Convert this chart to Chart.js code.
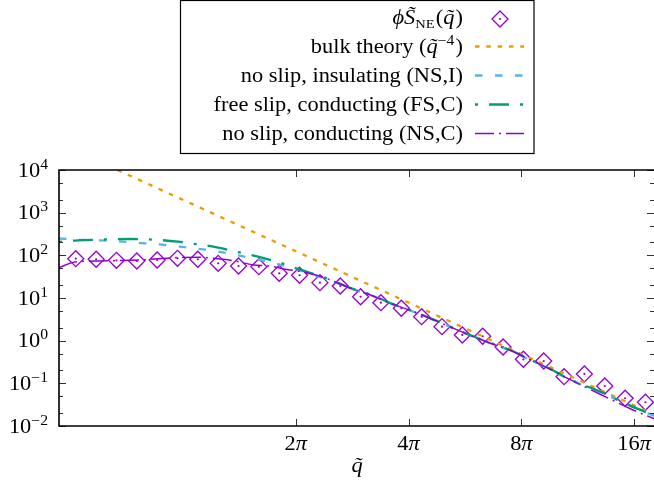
<!DOCTYPE html>
<html>
<head>
<meta charset="utf-8">
<script src="https://cdn.jsdelivr.net/npm/chart.js@4.4.1/dist/chart.umd.min.js"></script>
<style>
  html, body { margin: 0; padding: 0; background: #fff; }
  canvas { display: block; }
</style>
</head>
<body>
<canvas id="c" width="654" height="489"></canvas>
<script>
// Measured non-equilibrium structure factor, phi * S_NE(q)
const qMeasured = [1.625, 1.842, 2.087, 2.365, 2.680, 3.037, 3.441, 3.900, 4.419, 5.008,
                   5.675, 6.431, 7.287, 8.258, 9.358, 10.60, 12.02, 13.62, 15.43, 17.49,
                   19.82, 22.46, 25.45, 28.84, 32.68, 37.03, 41.97, 47.56, 53.89];
const sMeasured = [83.4, 80.8, 76.5, 73.7, 77.8, 85.2, 80.8, 65.0, 56.2, 54.2,
                   37.9, 34.1, 22.9, 19.1, 10.7, 7.77, 5.74, 3.65, 2.13, 1.36,
                   1.27, 0.711, 0.366, 0.334, 0.143, 0.166, 0.0867, 0.0447, 0.036];

// Bulk theory, a pure q^-4 power law (straight in log-log)
const qBulk = [2.10, 56.8];
const sBulk = [1.0e4, 0.0187];

// No slip, insulating walls
const qNSI = [1.466, 1.668, 1.887, 2.161, 2.487, 2.813, 3.242, 3.713, 4.197, 4.748,
              5.371, 6.149, 7.308, 8.263, 8.788, 9.941, 11.24, 12.72, 14.38, 16.26,
              18.40, 20.80, 23.53, 26.62, 30.10, 34.05, 40.94, 49.27, 57.10];
const sNSI = [248, 231.3, 224.9, 208.9, 191.4, 174.6, 151, 131.9, 109.1, 86.7,
              69.0, 50.5, 31.0, 21.3, 16.8, 11.7, 7.45, 5.05, 3.28, 2.07,
              1.30, 0.86, 0.583, 0.348, 0.209, 0.119, 0.0622, 0.0292, 0.0171];

// Free slip, conducting walls
const qFSC = [1.466, 1.647, 1.852, 2.268, 2.643, 3.049, 3.283, 3.783, 4.048, 4.356,
              4.689, 5.371, 5.746, 6.188, 6.582, 7.394, 8.263, 8.788, 9.941, 11.24,
              12.72, 14.38, 16.26, 18.40, 20.80, 23.53, 26.62, 30.10, 34.05, 40.94,
              49.27, 57.10];
const sFSC = [205.6, 224.9, 232.4, 241.5, 232.4, 208.9, 191.4, 159.6, 140.9, 121.7,
              105.7, 77.8, 66.1, 52.4, 43.7, 31.6, 21.5, 17.2, 12.0, 7.6,
              5.15, 3.35, 2.12, 1.34, 0.88, 0.595, 0.356, 0.213, 0.121, 0.0632,
              0.0296, 0.0174];

// No slip, conducting walls
const qNSC = [1.466, 1.617, 1.887, 2.413, 3.086, 3.490, 3.997, 4.329, 4.838, 5.371,
              5.890, 6.528, 6.828, 7.534, 8.788, 9.941, 11.24, 12.72, 14.38, 16.26,
              18.40, 20.80, 23.53, 26.62, 30.10, 34.05, 40.94, 49.27, 57.10];
const sNSC = [51.4, 69.8, 73.7, 77.8, 89.0, 89.9, 80.8, 73.7, 59.4, 56.2,
              47.1, 41.3, 37.5, 29.4, 16.9, 11.8, 7.5, 5.1, 3.31, 2.09,
              1.32, 0.869, 0.589, 0.352, 0.211, 0.12, 0.0548, 0.0251, 0.0146];

// Axis ticks
const xTickValues = [2 * Math.PI, 4 * Math.PI, 8 * Math.PI, 16 * Math.PI];
const xTickNumbers = ['2', '4', '8', '16'];
const yTickValues = [1e-2, 1e-1, 1e0, 1e1, 1e2, 1e3, 1e4];
const yTickExponents = ['\u22122', '\u22121', '0', '1', '2', '3', '4'];
const yMinorFactors = [2, 5];

// Legend entries (the first two are composed below with math formatting)
const legendLabels = [
  null,
  null,
  'no slip, insulating (NS,I)',
  'free slip, conducting (FS,C)',
  'no slip, conducting (NS,C)'
];

const PURPLE = '#9400D3';
const ORANGE = '#E69F00';
const SKY = '#56B4E9';
const GREEN = '#009E73';

const DASH_BULK = [4.5, 6.8];
const DASH_NSI = [7.5, 12.5];
const DASH_FSC = [3, 11, 20, 11];
const DASH_NSC = [19, 5, 2, 5];

const pts = (qs, vs) => qs.map((q, i) => ({ x: q, y: vs[i] }));

const FAMILY = '"Liberation Serif", "DejaVu Serif", serif';
const RM = '20px ' + FAMILY;
const IT = 'italic 20px ' + FAMILY;
const SUP = '14px ' + FAMILY;
const SUB = '13px ' + FAMILY;
const SX = 1.12; // horizontal stretch of text

function richWidth(ctx, segs) {
  let w = 0;
  for (const s of segs) { ctx.font = s.f; w += ctx.measureText(s.t).width + (s.k || 0); }
  return w * SX;
}
function drawRich(ctx, segs, x, y, align) {
  const w = richWidth(ctx, segs);
  const x0 = align === 'right' ? x - w : align === 'center' ? x - w / 2 : x;
  ctx.save();
  ctx.translate(x0, y);
  ctx.scale(SX, 1);
  ctx.textAlign = 'left';
  ctx.textBaseline = 'alphabetic';
  let px = 0;
  for (const s of segs) {
    ctx.font = s.f;
    ctx.fillText(s.t, px, s.dy || 0);
    px += ctx.measureText(s.t).width + (s.k || 0);
  }
  ctx.restore();
}
function seg(ctx, x1, y1, x2, y2) {
  ctx.beginPath(); ctx.moveTo(x1, y1); ctx.lineTo(x2, y2); ctx.stroke();
}
function diamond(ctx, x, y, r) {
  ctx.save();
  ctx.strokeStyle = PURPLE; ctx.fillStyle = PURPLE; ctx.lineWidth = 1.3;
  ctx.setLineDash([]);
  ctx.beginPath();
  ctx.moveTo(x, y - r); ctx.lineTo(x + r, y); ctx.lineTo(x, y + r); ctx.lineTo(x - r, y); ctx.closePath();
  ctx.stroke();
  ctx.beginPath(); ctx.arc(x, y, 1.1, 0, Math.PI * 2); ctx.fill();
  ctx.restore();
}

// Frame, inward ticks, tick labels, axis title and legend box
const decorations = {
  id: 'decorations',
  afterDraw(chart) {
    const { ctx, chartArea: a } = chart;
    const xs = chart.scales.x, ys = chart.scales.y;
    ctx.save();
    ctx.setLineDash([]);

    // ticks
    ctx.strokeStyle = '#333';
    ctx.lineWidth = 1;
    yTickValues.forEach((v, i) => {
      const py = Math.round(ys.getPixelForValue(v)) + 0.5;
      seg(ctx, a.left, py, a.left + 7, py);
      seg(ctx, a.right, py, a.right - 7, py);
      if (i < yTickValues.length - 1) {
        yMinorFactors.forEach(f => {
          const pm = Math.round(ys.getPixelForValue(v * f)) + 0.5;
          seg(ctx, a.left, pm, a.left + 4, pm);
          seg(ctx, a.right, pm, a.right - 4, pm);
        });
      }
    });
    xTickValues.forEach(v => {
      const px = Math.round(xs.getPixelForValue(v)) + 0.5;
      seg(ctx, px, a.bottom, px, a.bottom - 7);
      seg(ctx, px, a.top, px, a.top + 7);
    });

    // frame (left, top, bottom)
    ctx.strokeStyle = '#000';
    ctx.lineWidth = 1.6;
    ctx.beginPath();
    ctx.moveTo(a.right + 1, a.top);
    ctx.lineTo(a.left, a.top);
    ctx.lineTo(a.left, a.bottom);
    ctx.lineTo(a.right + 1, a.bottom);
    ctx.stroke();

    // tick labels
    ctx.fillStyle = '#000';
    yTickValues.forEach((v, i) => {
      const py = ys.getPixelForValue(v);
      drawRich(ctx, [{ t: '10', f: RM }, { t: yTickExponents[i], f: SUP, dy: -8 }], 48, py + 6.5, 'right');
    });
    xTickValues.forEach((v, i) => {
      const px = xs.getPixelForValue(v);
      drawRich(ctx, [{ t: xTickNumbers[i], f: RM }, { t: '\u03C0', f: IT }], px, 450, 'center');
    });

    // axis title
    drawRich(ctx, [{ t: 'q\u0303', f: IT }], 357, 472, 'center');

    // legend box
    ctx.strokeStyle = '#000';
    ctx.lineWidth = 1.2;
    ctx.strokeRect(180.5, 0.5, 353.5, 153);

    const baselines = [24, 53, 82, 111, 140];
    const textRight = 463;
    const sx1 = 475, sx2 = 524;
    ctx.fillStyle = '#000';
    drawRich(ctx, [
      { t: '\u03D5', f: IT },
      { t: 'S\u0303', f: IT },
      { t: 'NE', f: SUB, dy: 4, k: 1 },
      { t: '(', f: RM },
      { t: 'q\u0303', f: IT, k: 1 },
      { t: ')', f: RM }
    ], textRight, baselines[0], 'right');
    drawRich(ctx, [
      { t: 'bulk theory (', f: RM },
      { t: 'q\u0303', f: IT },
      { t: '\u22124', f: SUP, dy: -8, k: 1 },
      { t: ')', f: RM }
    ], textRight, baselines[1], 'right');
    for (let i = 2; i < 5; i++) {
      drawRich(ctx, [{ t: legendLabels[i], f: RM }], textRight, baselines[i], 'right');
    }

    diamond(ctx, 500, baselines[0] - 5, 8);
    const samples = [
      [ORANGE, 2.3, DASH_BULK],
      [SKY, 2.3, DASH_NSI],
      [GREEN, 2.3, DASH_FSC],
      [PURPLE, 1.5, DASH_NSC]
    ];
    samples.forEach(([c, w, d], i) => {
      const y = baselines[i + 1] - 6.5;
      ctx.strokeStyle = c; ctx.lineWidth = w; ctx.setLineDash(d); ctx.lineDashOffset = 0;
      seg(ctx, sx1, y, sx2, y);
    });
    ctx.restore();
  }
};

const lineDs = (label, data, color, width, dash, order) => ({
  label, data,
  borderColor: color,
  borderWidth: width,
  borderDash: dash,
  pointRadius: 0,
  pointHoverRadius: 0,
  fill: false,
  showLine: true,
  cubicInterpolationMode: 'monotone',
  order
});

new Chart(document.getElementById('c'), {
  type: 'scatter',
  data: {
    datasets: [
      lineDs('no slip, conducting (NS,C)', pts(qNSC, sNSC), PURPLE, 1.5, DASH_NSC, 1),
      lineDs('free slip, conducting (FS,C)', pts(qFSC, sFSC), GREEN, 2.3, DASH_FSC, 2),
      lineDs('no slip, insulating (NS,I)', pts(qNSI, sNSI), SKY, 2.3, DASH_NSI, 3),
      lineDs('bulk theory', pts(qBulk, sBulk), ORANGE, 2.3, DASH_BULK, 4),
      {
        label: 'phi S_NE centre',
        data: pts(qMeasured, sMeasured),
        pointStyle: 'circle',
        pointRadius: 1.1,
        pointBackgroundColor: PURPLE,
        pointBorderWidth: 0,
        showLine: false,
        order: 5
      },
      {
        label: 'phi S_NE',
        data: pts(qMeasured, sMeasured),
        pointStyle: 'rectRot',
        pointRadius: 8,
        pointBorderColor: PURPLE,
        pointBackgroundColor: 'rgba(0,0,0,0)',
        pointBorderWidth: 1.3,
        showLine: false,
        order: 6
      }
    ]
  },
  options: {
    responsive: false,
    animation: false,
    devicePixelRatio: 1,
    layout: { autoPadding: false, padding: { left: 59, top: 170, right: 0, bottom: 63 } },
    plugins: { legend: { display: false }, tooltip: { enabled: false } },
    scales: {
      x: { type: 'logarithmic', min: 1.466, max: 56.8, display: false },
      y: { type: 'logarithmic', min: 1e-2, max: 1e4, display: false }
    }
  },
  plugins: [decorations]
});
</script>
</body>
</html>
